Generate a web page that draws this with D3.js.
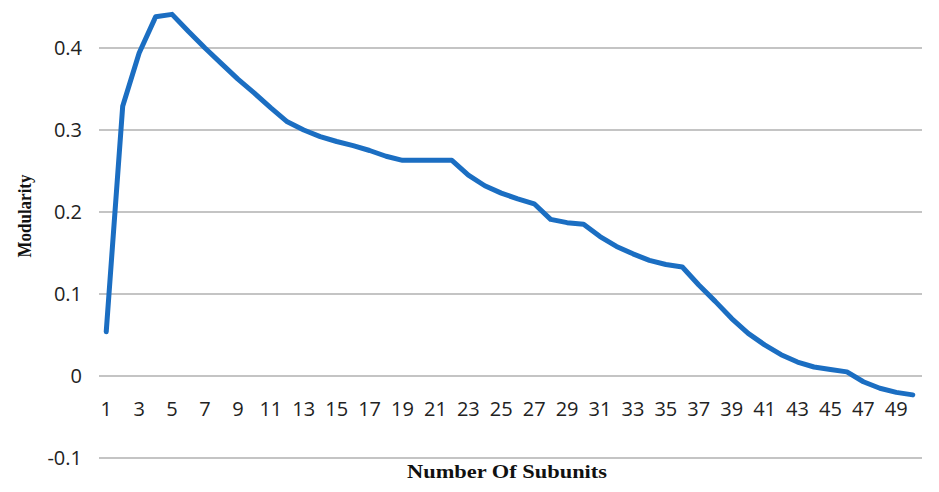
<!DOCTYPE html>
<html>
<head>
<meta charset="utf-8">
<script src="https://cdn.jsdelivr.net/npm/d3@7"></script>
<style>
  body { margin: 0; background: #fff; }
  .tick-label { font-family: "Open Sans", sans-serif; font-size: 20px; fill: #222; }
  .axis-label { font-family: "Liberation Serif", serif; font-weight: bold; fill: #111; }
</style>
</head>
<body>
<div id="chart"></div>
<script>
// number of subunits (x categories)
const subunits = d3.range(1, 51);

// modularity
const modularity = [
  0.054, 0.329, 0.394, 0.438, 0.441, 0.420, 0.400, 0.381, 0.362, 0.345,
  0.327, 0.310, 0.300, 0.292, 0.286, 0.281, 0.275, 0.268, 0.263, 0.263,
  0.263, 0.263, 0.245, 0.232, 0.223, 0.216, 0.210, 0.191, 0.187, 0.185,
  0.170, 0.158, 0.149, 0.141, 0.136, 0.133, 0.111, 0.091, 0.070, 0.052,
  0.038, 0.026, 0.017, 0.011, 0.008, 0.005, -0.007, -0.015, -0.020, -0.023
];

const yTicks = [-0.1, 0, 0.1, 0.2, 0.3, 0.4];
const xTickLabels = subunits.filter(d => d % 2 === 1);

const width = 939, height = 492;

const svg = d3.select("#chart")
  .append("svg")
  .attr("width", width)
  .attr("height", height);

// scales
const x = d3.scaleBand()
  .domain(subunits)
  .range([98, 921]);

const y = d3.scaleLinear()
  .domain([-0.1, 0.4])
  .range([458, 48]);

const cx = d => x(d) + x.bandwidth() / 2;

// gridlines
svg.append("g")
  .selectAll("line")
  .data(yTicks)
  .enter()
  .append("line")
  .attr("x1", 99)
  .attr("x2", 922)
  .attr("y1", d => y(d))
  .attr("y2", d => y(d))
  .attr("stroke", "#c4c4c4")
  .attr("stroke-width", 2);

// y tick labels (plain hyphen for the minus, like the original)
svg.append("g")
  .selectAll("text")
  .data(yTicks)
  .enter()
  .append("text")
  .attr("class", "tick-label")
  .attr("x", 82)
  .attr("y", d => y(d))
  .attr("dy", "0.35em")
  .attr("text-anchor", "end")
  .text(d => String(d));

// x tick labels (odd numbers only)
svg.append("g")
  .selectAll("text")
  .data(xTickLabels)
  .enter()
  .append("text")
  .attr("class", "tick-label")
  .attr("x", d => cx(d))
  .attr("y", 416)
  .attr("text-anchor", "middle")
  .text(d => d);

// line
const line = d3.line()
  .x((d, i) => cx(subunits[i]))
  .y(d => y(d));

svg.append("path")
  .datum(modularity)
  .attr("fill", "none")
  .attr("stroke", "#1b6ec2")
  .attr("stroke-width", 5)
  .attr("stroke-linejoin", "round")
  .attr("stroke-linecap", "round")
  .attr("d", line);

// axis titles
svg.append("text")
  .attr("class", "axis-label")
  .attr("x", 507)
  .attr("y", 478)
  .attr("text-anchor", "middle")
  .style("font-size", "18px")
  .attr("textLength", 200)
  .attr("lengthAdjust", "spacingAndGlyphs")
  .text("Number Of Subunits");

svg.append("text")
  .attr("class", "axis-label")
  .attr("transform", "translate(31, 216) rotate(-90)")
  .attr("text-anchor", "middle")
  .style("font-size", "19px")
  .attr("textLength", 83)
  .attr("lengthAdjust", "spacingAndGlyphs")
  .text("Modularity");
</script>
</body>
</html>
